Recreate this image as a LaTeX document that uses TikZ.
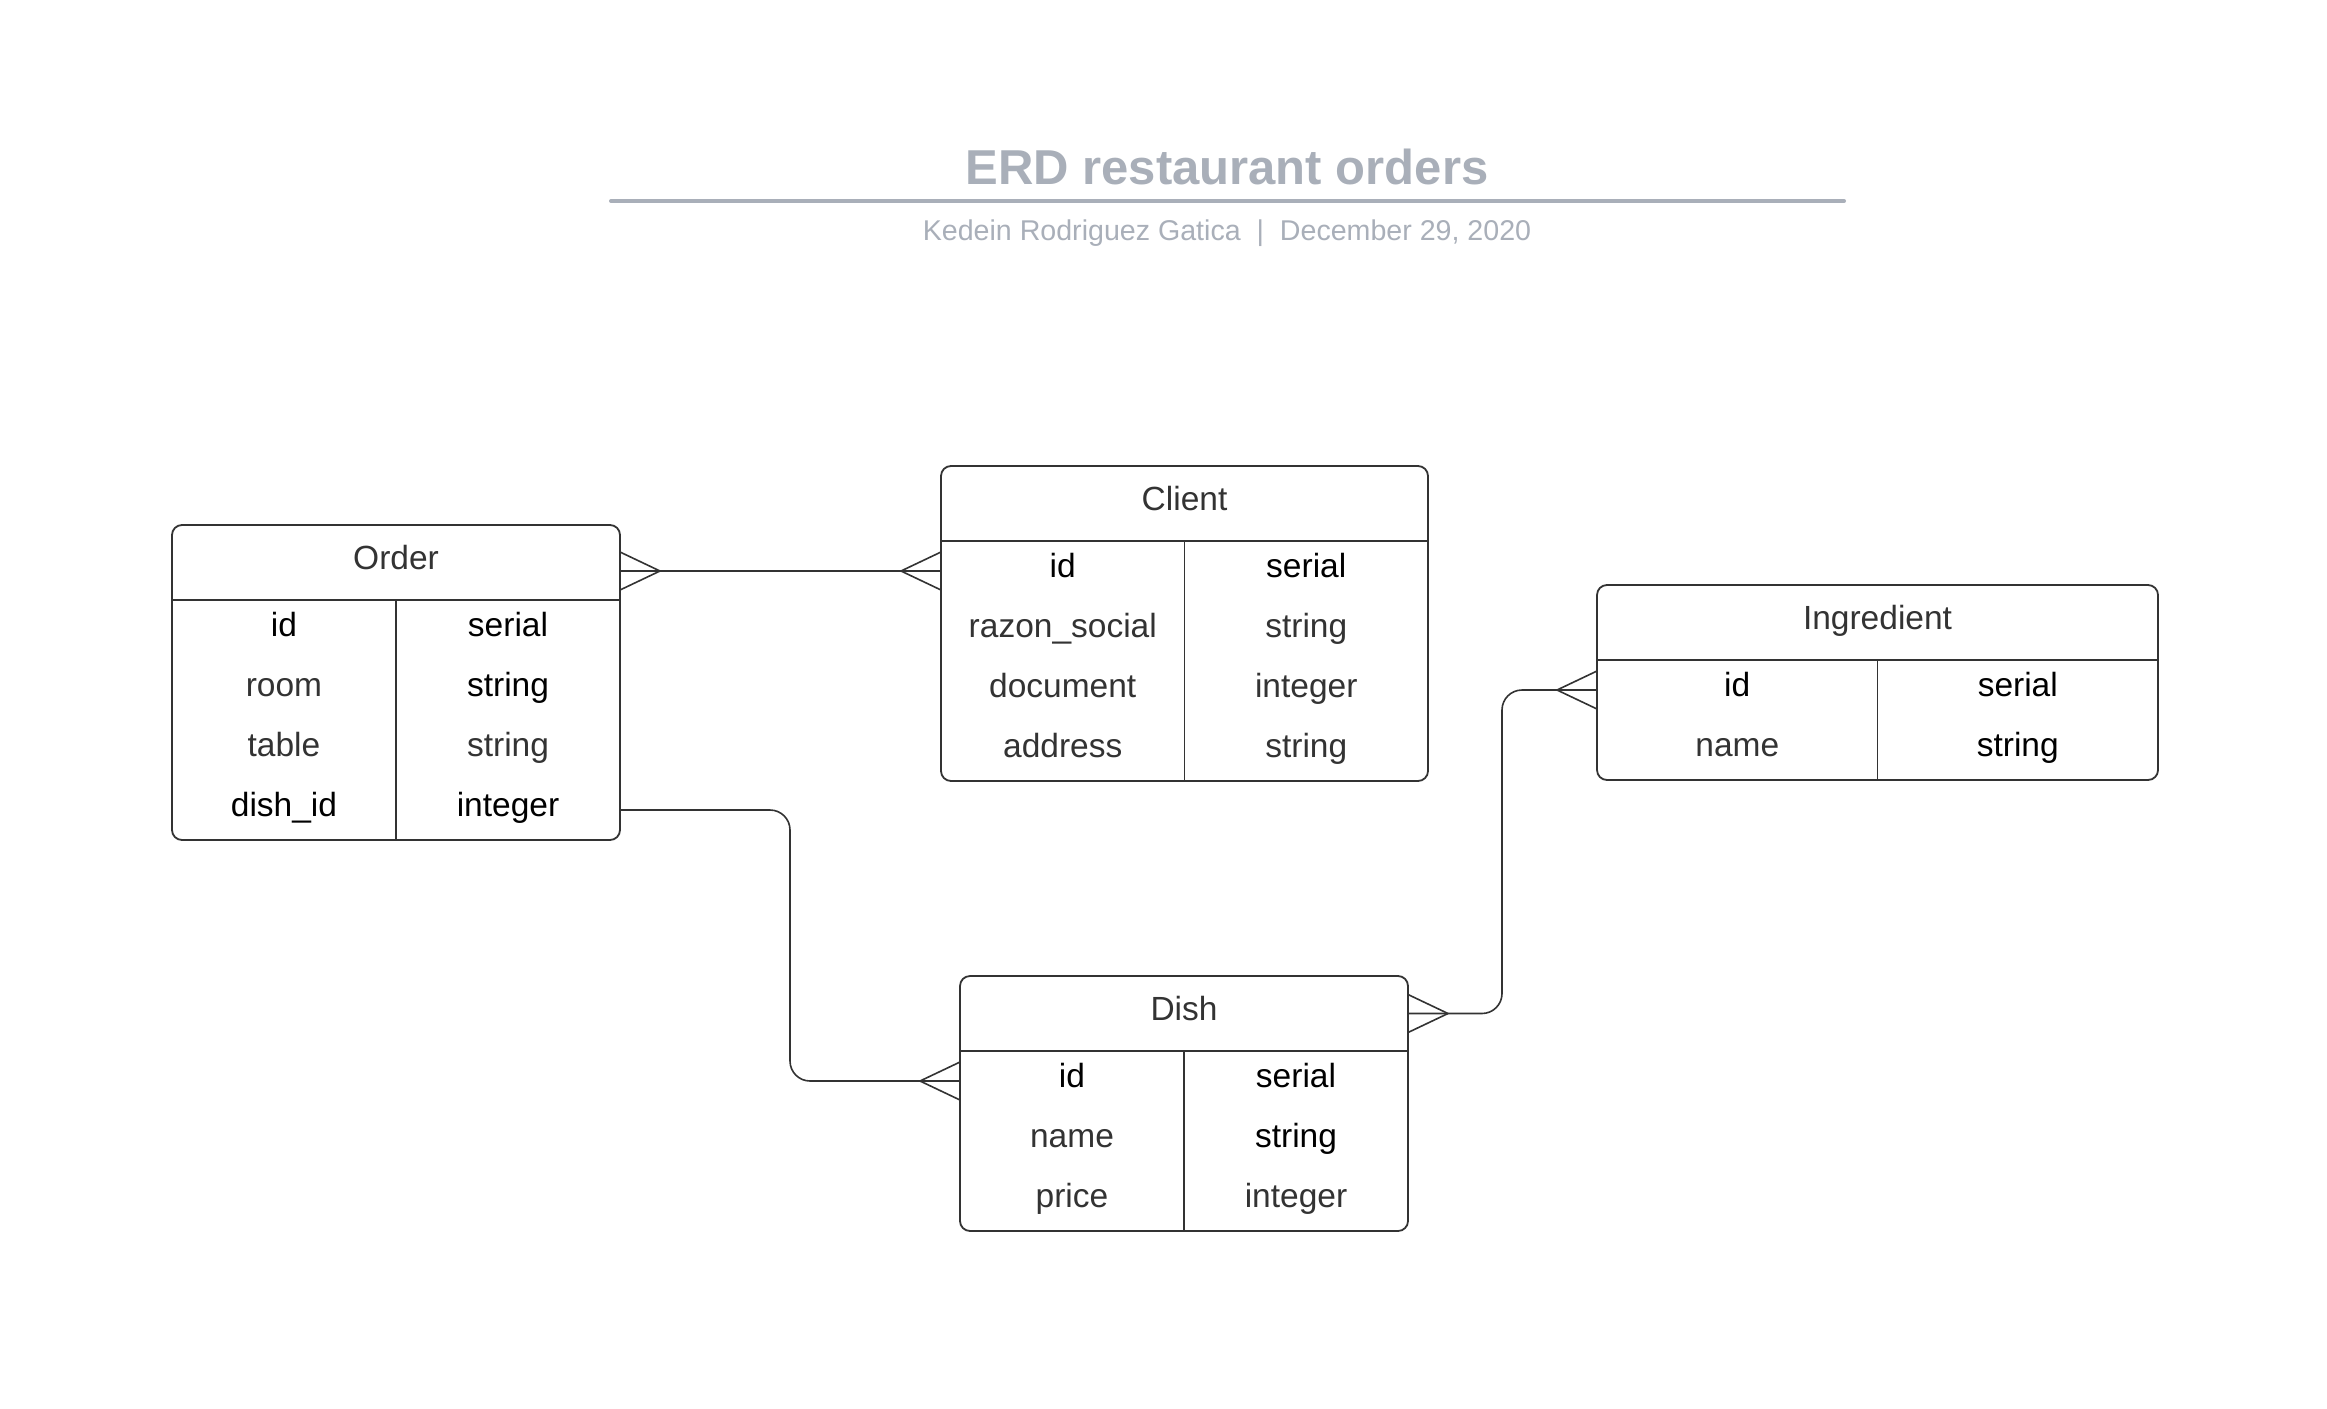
\documentclass[tikz,border=0pt]{standalone}
\usepackage{fontspec}
\setmainfont{Liberation Sans}
\definecolor{ink}{HTML}{333333}
\definecolor{titlegray}{HTML}{A9AFB9}
\tikzset{
  entity/.style={draw=ink, line width=0.9pt, rounded corners=5pt, anchor=north west, inner sep=0pt, outer sep=0pt},
  sep/.style={draw=ink, line width=0.9pt},
  conn/.style={draw=ink, line width=0.8pt, rounded corners=10pt},
  cell/.style={minimum height=30pt, text height=9pt, text depth=2.5pt, inner sep=0pt, font=\fontsize{16.75}{20}\selectfont},
  titletext/.style={text=titlegray, inner sep=0pt, font=\bfseries\fontsize{24.5}{29}\selectfont},
  subtext/.style={text=titlegray, inner sep=0pt, font=\fontsize{14.3}{17}\selectfont},
}
\begin{document}
\begin{tikzpicture}[x=0.5pt, y=-0.5pt, line join=round, line cap=round]
  \useasboundingbox[fill=white] (0,0) rectangle (2327,1408);
  % title block
  \node[titletext, anchor=base] (title) at (1227,184) {ERD restaurant orders};
  \draw[titlegray, line width=2pt] (611,201) -- (1844,201);
  \node[subtext, anchor=base] (sub) at (1227,240) {Kedein Rodriguez Gatica\ \ |\ \ December 29, 2020};
  % entity frames
  \foreach \n/\x/\y/\w/\h/\t in {order/172/525/448/315/Order, client/941/466/487/315/Client,
      ingr/1597/585/561/195/Ingredient, dish/960/976/448/255/Dish} {
    \node[entity, minimum width=\w*0.5pt, minimum height=\h*0.5pt] (\n) at (\x,\y) {};
    \node[cell, text=ink] (\n-h) at ({\x+\w/2},{\y+37.5}) {\t};
    \draw[sep] (\x,\y+75) -- ({\x+\w},\y+75) ({\x+\w/2},\y+75) -- ({\x+\w/2},{\y+\h});
  }
  % Order rows
  \foreach \a/\b/\ca/\cb [count=\i] in {id/serial/black/black, room/string/ink/black,
      table/string/ink/ink, dish\_id/integer/black/black} {
    \node[cell, text=\ca] (order-n\i) at (284,{570+60*\i}) {\a};
    \node[cell, text=\cb] (order-t\i) at (508,{570+60*\i}) {\b};
  }
  % Client rows
  \foreach \a/\b/\ca/\cb [count=\i] in {id/serial/black/black, razon\_social/string/ink/ink,
      document/integer/ink/ink, address/string/ink/ink} {
    \node[cell, text=\ca] (client-n\i) at (1062.75,{511+60*\i}) {\a};
    \node[cell, text=\cb] (client-t\i) at (1306.25,{511+60*\i}) {\b};
  }
  % Ingredient rows
  \foreach \a/\b/\ca/\cb [count=\i] in {id/serial/black/black, name/string/ink/black} {
    \node[cell, text=\ca] (ingr-n\i) at (1737.25,{630+60*\i}) {\a};
    \node[cell, text=\cb] (ingr-t\i) at (2017.75,{630+60*\i}) {\b};
  }
  % Dish rows
  \foreach \a/\b/\ca/\cb [count=\i] in {id/serial/black/black, name/string/ink/black,
      price/integer/ink/ink} {
    \node[cell, text=\ca] (dish-n\i) at (1072,{1021+60*\i}) {\a};
    \node[cell, text=\cb] (dish-t\i) at (1296,{1021+60*\i}) {\b};
  }
  % relations
  \draw[conn] (order.east |- client-n1) -- (client.west |- client-n1);
  \draw[conn] (order.east |- order-n4) -- ++(170,0) |- (dish.west |- dish-n1);
  \draw[conn] (dish.east |- dish-h) -- ++(94,0) |- (ingr.west |- ingr-n1);
  % crow's feet
  \draw[conn] (order.east |- client-n1) ++(40,0) -- ++(-40,19) ++(40,-19) -- ++(-40,-19);
  \draw[conn] (dish.east |- dish-h) ++(40,0) -- ++(-40,19) ++(40,-19) -- ++(-40,-19);
  \draw[conn] (client.west |- client-n1) ++(-40,0) -- ++(40,19) ++(-40,-19) -- ++(40,-19);
  \draw[conn] (dish.west |- dish-n1) ++(-40,0) -- ++(40,19) ++(-40,-19) -- ++(40,-19);
  \draw[conn] (ingr.west |- ingr-n1) ++(-40,0) -- ++(40,19) ++(-40,-19) -- ++(40,-19);
\end{tikzpicture}
\end{document}
